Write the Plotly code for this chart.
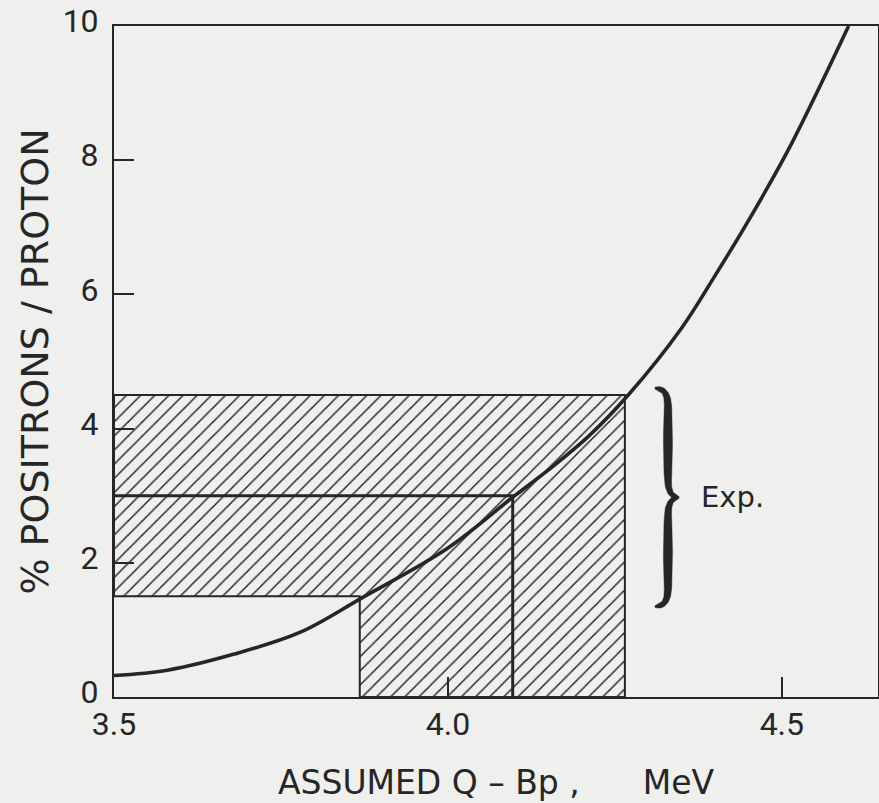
import numpy as np
import plotly.graph_objects as go

# ---------------- data ----------------
Q_CURVE = [3.50, 3.58, 3.68, 3.78, 3.87, 4.00, 4.10, 4.15, 4.21, 4.27, 4.35, 4.40, 4.45, 4.51, 4.60]
PCT_CURVE = [0.32, 0.40, 0.64, 0.97, 1.47, 2.22, 3.00, 3.38, 3.88, 4.50, 5.50, 6.28, 7.10, 8.16, 10.0]

EXP_LEVELS = [1.5, 3.0, 4.5]          # % positrons / proton (low, central, high)
Q_AT_LEVEL = [3.868, 4.097, 4.265]    # corresponding Q - Bp (MeV)

BRACE_RANGE = [1.35, 4.6]
BRACE_X = 4.31
EXP_LABEL = "Exp."

X_TICKS = [3.5, 4.0, 4.5]
X_TICK_TEXT = ["3.5", "4.0", "4.5"]
Y_TICKS = [0, 2, 4, 6, 8, 10]
Y_TICK_TEXT = ["0", "2", "4", "6", "8", "10"]

X_RANGE = [3.5, 4.644]
Y_RANGE = [0, 10]

X_TITLE = "ASSUMED Q \u2013 Bp ,\u00a0\u00a0\u00a0\u00a0\u00a0\u00a0MeV"
Y_TITLE = "% POSITRONS / PROTON"

# ---------------- style ----------------
W, H = 879, 803
M = dict(l=114, r=1, t=26, b=106)
BG = "#efefed"
INK = "#262626"
FONT = "Roboto"
TFONT = "DejaVu Sans"

plot_w = W - M["l"] - M["r"]
plot_h = H - M["t"] - M["b"]
ppx = plot_w / (X_RANGE[1] - X_RANGE[0])
ppy = plot_h / (Y_RANGE[1] - Y_RANGE[0])

fig = go.Figure()

# hatched region between the low and high level "L" outlines
lo, hi = 0, 2
poly_x = [X_RANGE[0], X_RANGE[0], Q_AT_LEVEL[hi], Q_AT_LEVEL[hi], Q_AT_LEVEL[lo], Q_AT_LEVEL[lo], X_RANGE[0]]
poly_y = [EXP_LEVELS[lo], EXP_LEVELS[hi], EXP_LEVELS[hi], 0, 0, EXP_LEVELS[lo], EXP_LEVELS[lo]]
fig.add_trace(go.Scatter(
    x=poly_x, y=poly_y, mode="lines", fill="toself",
    fillcolor="rgba(0,0,0,0)",
    fillpattern=dict(shape="/", size=10, solidity=0.15, fgcolor=INK, bgcolor=BG, fillmode="replace"),
    line=dict(color=INK, width=2), hoverinfo="skip", showlegend=False,
))

# central level L
mid = 1
fig.add_trace(go.Scatter(
    x=[X_RANGE[0], Q_AT_LEVEL[mid], Q_AT_LEVEL[mid]],
    y=[EXP_LEVELS[mid], EXP_LEVELS[mid], 0],
    mode="lines", line=dict(color=INK, width=3), hoverinfo="skip", showlegend=False,
))

# curve
fig.add_trace(go.Scatter(
    x=Q_CURVE, y=PCT_CURVE, mode="lines",
    line=dict(color=INK, width=3.6, shape="spline", smoothing=1.0),
    hoverinfo="skip", showlegend=False,
))

# brace "}" built as a filled, tapering stroke
def brace_half(Hpx, flip):
    def quad(p0, c, p1, n=30):
        t = np.linspace(0, 1, n)[:, None]
        return (1 - t) ** 2 * np.array(p0) + 2 * (1 - t) * t * np.array(c) + t ** 2 * np.array(p1)
    h2 = Hpx / 2
    seg1 = quad((0, 0), (13, -1), (13, 18))
    seg2 = np.column_stack([np.full(30, 13.0), np.linspace(18, h2 - 18, 30)])
    seg3 = quad((13, h2 - 18), (13, h2), (24, h2))
    pts = np.vstack([seg1, seg2[1:], seg3[1:]])
    d = np.sqrt((np.diff(pts, axis=0) ** 2).sum(axis=1))
    s = np.concatenate([[0], np.cumsum(d)])
    s /= s[-1]
    tang = np.gradient(pts, axis=0)
    tang /= np.linalg.norm(tang, axis=1)[:, None]
    nrm = np.column_stack([-tang[:, 1], tang[:, 0]])
    thick = 1.5 + 7.5 * np.sin(np.pi * np.clip(s, 0, 1)) ** 0.5
    left = pts + nrm * thick[:, None] / 2
    right = pts - nrm * thick[:, None] / 2
    outline = np.vstack([left, right[::-1], left[:1]])
    if flip:
        outline[:, 1] = Hpx - outline[:, 1]
    return outline

Hb = (BRACE_RANGE[1] - BRACE_RANGE[0]) * ppy
for flip in (False, True):
    o = brace_half(Hb, flip)
    bx = BRACE_X + o[:, 0] / ppx
    by = BRACE_RANGE[1] - o[:, 1] / ppy
    fig.add_trace(go.Scatter(x=bx, y=by, mode="lines", fill="toself", fillcolor=INK,
                             line=dict(color=INK, width=0.5), hoverinfo="skip", showlegend=False))

fig.add_annotation(x=BRACE_X + 44 / ppx, y=sum(BRACE_RANGE) / 2, text=EXP_LABEL,
                   xanchor="left", yanchor="middle", showarrow=False,
                   font=dict(family=TFONT, size=29, color=INK))

axis_common = dict(showline=True, linecolor=INK, linewidth=2, mirror=True,
                   ticks="inside", ticklen=20, tickwidth=2, tickcolor=INK,
                   showgrid=False, zeroline=False, fixedrange=True, automargin=False,
                   tickfont=dict(family=FONT, size=32, color=INK))

fig.update_xaxes(range=X_RANGE, tickvals=X_TICKS, ticktext=X_TICK_TEXT, ticklabelstandoff=-2,
                 title=dict(text=X_TITLE, font=dict(family=TFONT, size=33, color=INK), standoff=28),
                 **axis_common)
fig.update_yaxes(range=Y_RANGE, tickvals=Y_TICKS, ticktext=Y_TICK_TEXT, ticklabelstandoff=7,
                 ticklabelshift=-5,
                 title=dict(text=Y_TITLE, font=dict(family=TFONT, size=38, color=INK), standoff=2),
                 **axis_common)

fig.update_layout(width=W, height=H, margin=M, paper_bgcolor=BG, plot_bgcolor=BG,
                  showlegend=False)

fig.write_html("out.html", config={"displayModeBar": False},
               post_script="document.body.style.margin='0px';document.body.style.overflow='hidden';document.body.style.background='%s';" % BG)
